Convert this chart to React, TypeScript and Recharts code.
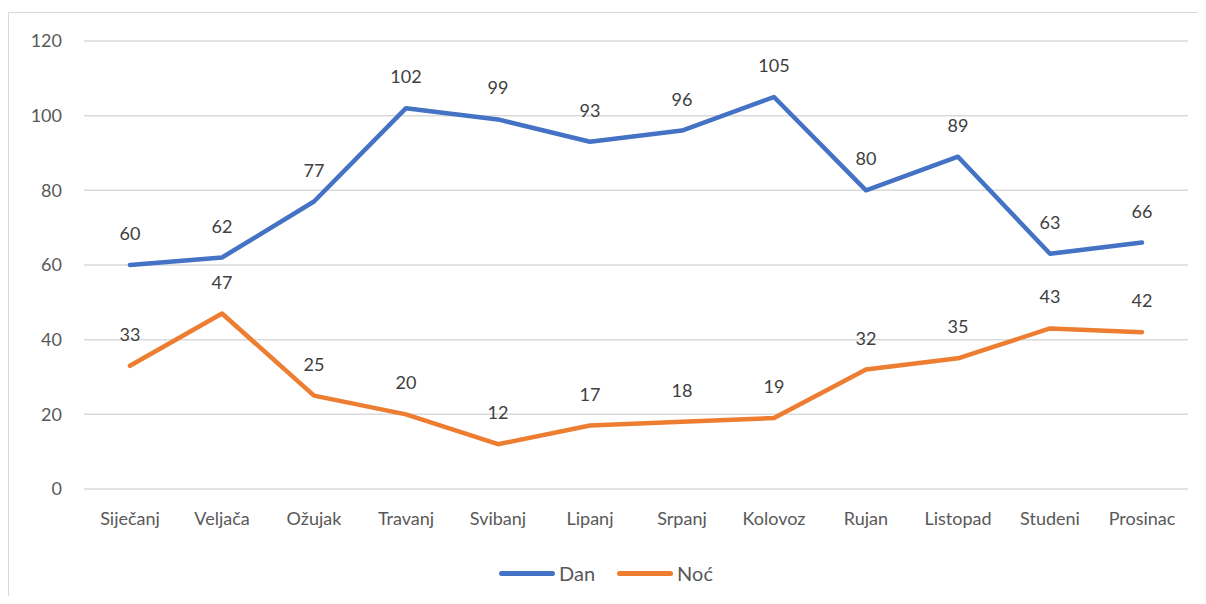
import { LineChart, Line, XAxis, YAxis, CartesianGrid, Legend, LabelList } from "recharts";

// podaci po mjesecima
const months = [
  "Siječanj", "Veljača", "Ožujak", "Travanj", "Svibanj", "Lipanj",
  "Srpanj", "Kolovoz", "Rujan", "Listopad", "Studeni", "Prosinac",
];
const dan = [60, 62, 77, 102, 99, 93, 96, 105, 80, 89, 63, 66];
const noc = [33, 47, 25, 20, 12, 17, 18, 19, 32, 35, 43, 42];
const yTicks = [0, 20, 40, 60, 80, 100, 120];

const data = months.map((m, i) => ({ name: m, Dan: dan[i], "Noć": noc[i] }));

const FONT = "Lato, 'Noto Sans', sans-serif";
const BLUE = "#4472C4";
const ORANGE = "#ED7D31";

const legendItems = [
  { label: "Dan", color: BLUE },
  { label: "Noć", color: ORANGE },
];

function ChartLegend() {
  return (
    <div style={{ display: "flex", justifyContent: "center", paddingTop: 34, fontFamily: FONT, fontSize: 20, color: "#595959", lineHeight: "20px" }}>
      {legendItems.map((it) => (
        <div key={it.label} style={{ display: "flex", alignItems: "center", margin: "0 11px" }}>
          <span style={{ display: "inline-block", width: 56, height: 5, borderRadius: 3, background: it.color, marginRight: 4 }} />
          <span>{it.label}</span>
        </div>
      ))}
    </div>
  );
}

export default function App() {
  const tick = { fontSize: 18, fill: "#595959", fontFamily: FONT };
  const label = { fontSize: 18, fill: "#404040", fontFamily: FONT };
  return (
    <div style={{ marginTop: 4, width: 1197, height: 583, borderLeft: "1px solid #d9d9d9", borderTop: "1px solid #d9d9d9", background: "#fff" }}>
      <LineChart width={1197} height={583} data={data} margin={{ top: 28, right: 18, left: 15, bottom: 8 }}>
        <CartesianGrid vertical={false} stroke="#d9d9d9" strokeWidth={1.5} />
        <XAxis dataKey="name" axisLine={false} tickLine={false} tick={tick} tickMargin={17} height={40} interval={0} padding={{ left: 46, right: 46 }} />
        <YAxis domain={[0, 120]} ticks={yTicks} axisLine={false} tickLine={false} tick={tick} tickMargin={16} width={60} />
        <Legend verticalAlign="bottom" height={59} content={() => <ChartLegend />} />
        <Line dataKey="Dan" stroke={BLUE} strokeWidth={4.5} dot={false} strokeLinejoin="round" strokeLinecap="round" isAnimationActive={false}>
          <LabelList dataKey="Dan" position="top" offset={25} style={label} />
        </Line>
        <Line dataKey="Noć" stroke={ORANGE} strokeWidth={4.5} dot={false} strokeLinejoin="round" strokeLinecap="round" isAnimationActive={false}>
          <LabelList dataKey="Noć" position="top" offset={25} style={label} />
        </Line>
      </LineChart>
    </div>
  );
}
